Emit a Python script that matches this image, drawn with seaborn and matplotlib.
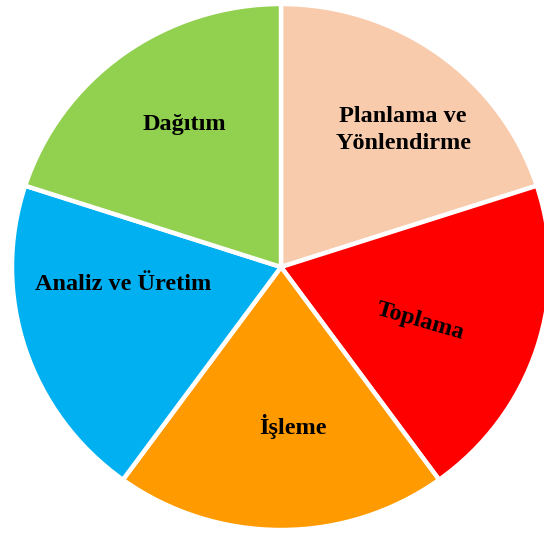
import matplotlib
matplotlib.use("Agg")
import matplotlib.pyplot as plt
import seaborn as sns

sns.set_theme(style="white")
plt.rcParams['font.family'] = ['Liberation Serif', 'DejaVu Serif']

categories = ["Planlama ve\nYönlendirme", "Toplama", "İşleme", "Analiz ve Üretim", "Dağıtım"]
values = [1, 1, 1, 1, 1]
colors = ["#F8CBAD", "#FF0000", "#FF9A00", "#00B0F0", "#92D050"]

# label placement (data units, radius-1 pie) and rotations
label_pos = [(0.454, 0.52), (0.517, -0.205), (0.045, -0.605), (-0.587, -0.065), (-0.361, 0.54)]
label_rot = [0, -16, 0, 0, 0]

fig = plt.figure(figsize=(5.44, 5.36), dpi=100)
ax = fig.add_axes([0, 0, 1, 1])
ax.pie(values, colors=colors, startangle=90, counterclock=False,
       wedgeprops=dict(edgecolor="white", linewidth=3.2))
for lab, (x, y), r in zip(categories, label_pos, label_rot):
    ax.text(x, y, lab, ha="center", va="center", fontsize=17.5, fontweight="bold",
            rotation=r, rotation_mode="anchor", linespacing=1.4, color="black")
ax.set_aspect("auto")
ax.set_xlim(-281 / 269, (544 - 281) / 269)
ax.set_ylim(-(536 - 267) / 263, 267 / 263)
ax.axis("off")
fig.savefig("out.png", dpi=100, facecolor="white")
